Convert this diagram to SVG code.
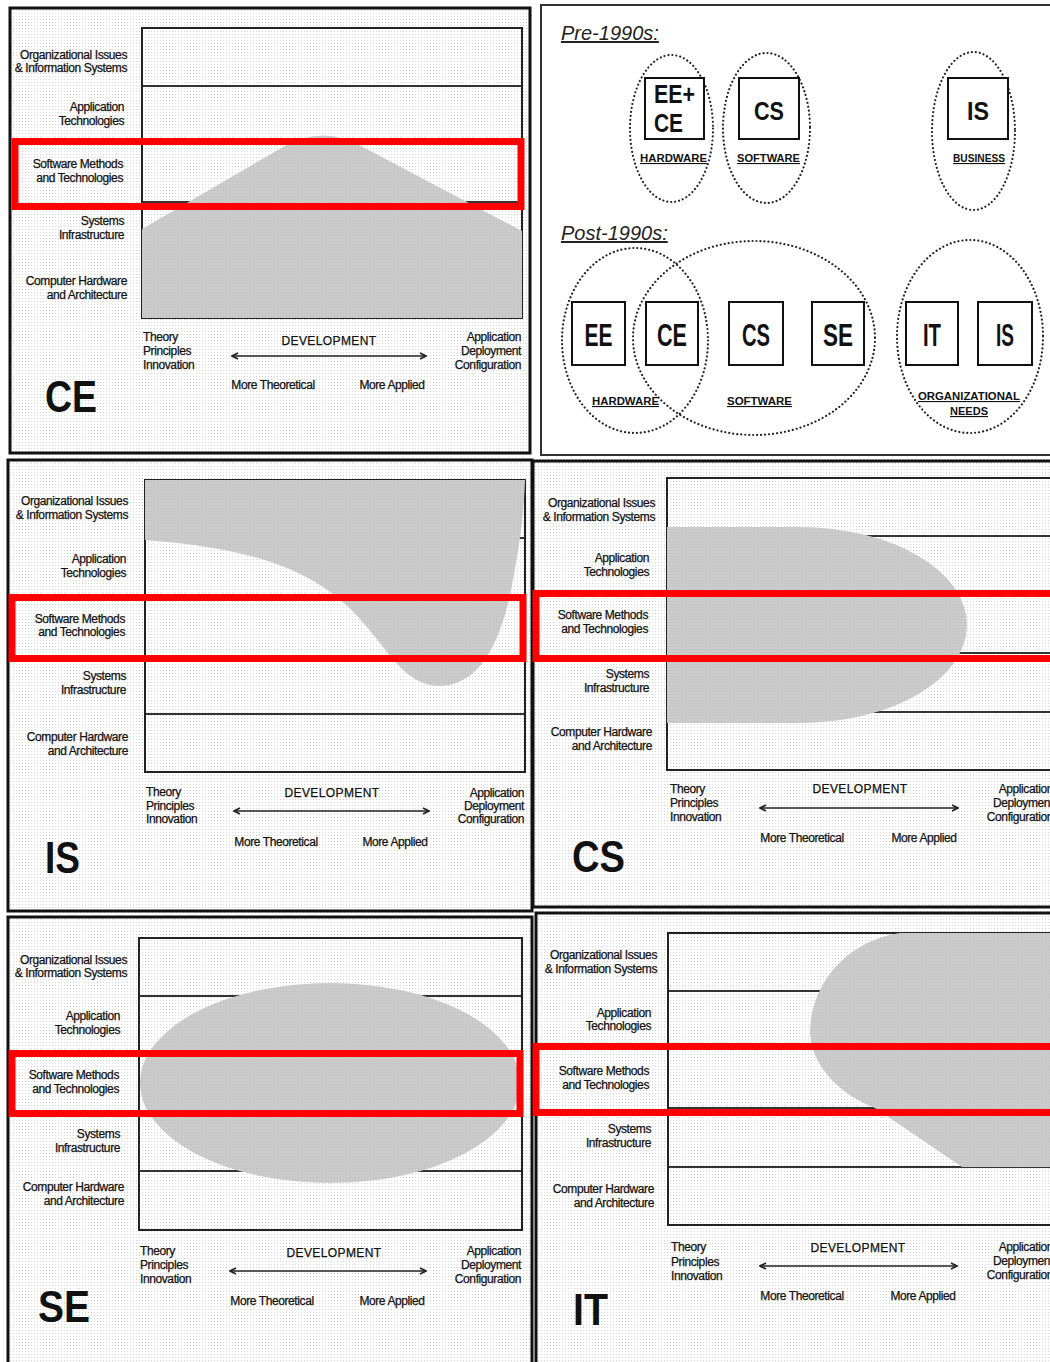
<svg xmlns="http://www.w3.org/2000/svg" width="1050" height="1362" viewBox="0 0 1050 1362">
  <defs>
    <pattern id="grain" width="3" height="3" patternUnits="userSpaceOnUse">
      <rect width="3" height="3" fill="#ffffff"/>
      <rect x="1" y="1" width="1" height="1" fill="#d6d6d6"/>
    </pattern>
    <pattern id="grainDark" width="3" height="3" patternUnits="userSpaceOnUse">
      <rect width="3" height="3" fill="#cbcbcb"/>
      <rect x="1" y="1" width="1" height="1" fill="#bdbdbd"/>
    </pattern>
    <marker id="chev" viewBox="0 0 8 8" refX="7" refY="4" markerWidth="8" markerHeight="8" markerUnits="userSpaceOnUse" orient="auto-start-reverse">
      <path d="M1,1 L7,4 L1,7" fill="none" stroke="#222" stroke-width="1.6"/>
    </marker>
    <style>
      text { font-family: "Liberation Sans", Arial, sans-serif; fill: #111; }
      .lbl { font-size: 12px; letter-spacing: -0.4px; stroke: #111; stroke-width: 0.25px; }
      .end { text-anchor: end; }
      .mid { text-anchor: middle; }
      .dev { font-size: 12px; letter-spacing: 0.4px; stroke: #111; stroke-width: 0.25px; }
      .big { font-size: 44px; font-weight: bold; }
      .frame { fill: url(#grain); stroke: #111; stroke-width: 3; }
      .box { fill: none; stroke: #222; stroke-width: 2; }
      .row { stroke: #333; stroke-width: 2; }
      .area { fill: url(#grainDark); }
      .hl { fill: none; stroke: #ff0000; stroke-width: 7; }
      .axis { stroke: #222; stroke-width: 1.5; fill: none; marker-start: url(#chev); marker-end: url(#chev); }
      .era { font-size: 20px; font-style: italic; fill: #222; text-decoration: underline; }
      .ring { fill: none; stroke: #222; stroke-width: 2.2; stroke-dasharray: 0.01 4; stroke-linecap: round; }
      .disc { fill: #fff; stroke: #111; stroke-width: 2; }
      .code { font-weight: bold; }
      .grp { font-size: 11px; font-weight: bold; text-decoration: underline; text-anchor: middle; }
    </style>
  </defs>

  <rect width="1050" height="1362" fill="#ffffff"/>

  <!-- CE profile -->
  <g id="panel-ce">
    <rect class="frame" x="10" y="8" width="520" height="445"/>
    <rect x="142" y="28" width="380" height="290" fill="url(#grain)"/>
    <line class="row" x1="142" y1="86" x2="522" y2="86"/>
    <line class="row" x1="142" y1="144" x2="522" y2="144"/>
    <line class="row" x1="142" y1="202" x2="522" y2="202"/>
    <line class="row" x1="142" y1="260" x2="522" y2="260"/>
    <rect class="box" x="142" y="28" width="380" height="290"/>
    <path class="area" d="M142,229 L283,147 Q323,124 363,147 L522,231 V318 H142 Z"/>
    <rect class="hl" x="15" y="141.5" width="506" height="65"/>
    <text class="lbl end" x="127" y="59">Organizational Issues</text>
    <text class="lbl end" x="127" y="72">&amp; Information Systems</text>
    <text class="lbl end" x="124" y="111">Application</text>
    <text class="lbl end" x="124" y="125">Technologies</text>
    <text class="lbl end" x="123" y="168">Software Methods</text>
    <text class="lbl end" x="123" y="182">and Technologies</text>
    <text class="lbl end" x="124" y="225">Systems</text>
    <text class="lbl end" x="124" y="239">Infrastructure</text>
    <text class="lbl end" x="127" y="285">Computer Hardware</text>
    <text class="lbl end" x="127" y="299">and Architecture</text>
    <text class="lbl" x="143" y="341">Theory</text>
    <text class="lbl" x="143" y="355">Principles</text>
    <text class="lbl" x="143" y="369">Innovation</text>
    <text class="dev mid" x="329" y="345">DEVELOPMENT</text>
    <text class="lbl mid" x="273" y="389">More Theoretical</text>
    <text class="lbl mid" x="392" y="389">More Applied</text>
    <text class="lbl end" x="521" y="341">Application</text>
    <text class="lbl end" x="521" y="355">Deployment</text>
    <text class="lbl end" x="521" y="369">Configuration</text>
    <text class="big" x="45" y="412" textLength="52" lengthAdjust="spacingAndGlyphs">CE</text>
  </g>

  <!-- IS profile -->
  <g id="panel-is">
    <rect class="frame" x="8" y="460" width="524" height="451"/>
    <rect x="145" y="480" width="380" height="292" fill="url(#grain)"/>
    <line class="row" x1="145" y1="538" x2="525" y2="538"/>
    <line class="row" x1="145" y1="596" x2="525" y2="596"/>
    <line class="row" x1="145" y1="656" x2="525" y2="656"/>
    <line class="row" x1="145" y1="714" x2="525" y2="714"/>
    <rect class="box" x="145" y="480" width="380" height="292"/>
    <path class="area" d="M145,480 H525 C524,510 520,545 512,585 C502,640 480,686 440,686 C400,686 385,640 345,604 C305,568 250,548 145,540 Z"/>
    <rect class="hl" x="12" y="597.5" width="511" height="61"/>
    <text class="lbl end" x="128" y="505">Organizational Issues</text>
    <text class="lbl end" x="128" y="519">&amp; Information Systems</text>
    <text class="lbl end" x="126" y="563">Application</text>
    <text class="lbl end" x="126" y="577">Technologies</text>
    <text class="lbl end" x="125" y="623">Software Methods</text>
    <text class="lbl end" x="125" y="636">and Technologies</text>
    <text class="lbl end" x="126" y="680">Systems</text>
    <text class="lbl end" x="126" y="694">Infrastructure</text>
    <text class="lbl end" x="128" y="741">Computer Hardware</text>
    <text class="lbl end" x="128" y="755">and Architecture</text>
    <text class="lbl" x="146" y="796">Theory</text>
    <text class="lbl" x="146" y="810">Principles</text>
    <text class="lbl" x="146" y="823">Innovation</text>
    <text class="dev mid" x="332" y="797">DEVELOPMENT</text>
    <text class="lbl mid" x="276" y="846">More Theoretical</text>
    <text class="lbl mid" x="395" y="846">More Applied</text>
    <text class="lbl end" x="524" y="797">Application</text>
    <text class="lbl end" x="524" y="810">Deployment</text>
    <text class="lbl end" x="524" y="823">Configuration</text>
    <text class="big" x="45" y="873" textLength="35" lengthAdjust="spacingAndGlyphs">IS</text>
  </g>

  <!-- CS profile -->
  <g id="panel-cs">
    <rect class="frame" x="533" y="461" width="530" height="446"/>
    <rect x="667" y="478" width="400" height="292" fill="url(#grain)"/>
    <line class="row" x1="667" y1="536" x2="1060" y2="536"/>
    <line class="row" x1="667" y1="594" x2="1060" y2="594"/>
    <line class="row" x1="667" y1="653" x2="1060" y2="653"/>
    <line class="row" x1="667" y1="712" x2="1060" y2="712"/>
    <rect class="box" x="667" y="478" width="400" height="292"/>
    <path class="area" d="M667,527 H800 A167,98 0 0 1 800,723 H667 Z"/>
    <rect class="hl" x="536" y="593.5" width="530" height="65"/>
    <text class="lbl end" x="655" y="507">Organizational Issues</text>
    <text class="lbl end" x="655" y="521">&amp; Information Systems</text>
    <text class="lbl end" x="649" y="562">Application</text>
    <text class="lbl end" x="649" y="576">Technologies</text>
    <text class="lbl end" x="648" y="619">Software Methods</text>
    <text class="lbl end" x="648" y="633">and Technologies</text>
    <text class="lbl end" x="649" y="678">Systems</text>
    <text class="lbl end" x="649" y="692">Infrastructure</text>
    <text class="lbl end" x="652" y="736">Computer Hardware</text>
    <text class="lbl end" x="652" y="750">and Architecture</text>
    <text class="lbl" x="670" y="793">Theory</text>
    <text class="lbl" x="670" y="807">Principles</text>
    <text class="lbl" x="670" y="821">Innovation</text>
    <text class="dev mid" x="860" y="793">DEVELOPMENT</text>
    <text class="lbl mid" x="802" y="842">More Theoretical</text>
    <text class="lbl mid" x="924" y="842">More Applied</text>
    <text class="lbl end" x="1053" y="793">Application</text>
    <text class="lbl end" x="1053" y="807">Deployment</text>
    <text class="lbl end" x="1053" y="821">Configuration</text>
    <text class="big" x="572" y="872" textLength="53" lengthAdjust="spacingAndGlyphs">CS</text>
  </g>

  <!-- SE profile -->
  <g id="panel-se">
    <rect class="frame" x="8" y="917" width="524" height="470"/>
    <rect x="139" y="938" width="383" height="292" fill="url(#grain)"/>
    <line class="row" x1="139" y1="996" x2="522" y2="996"/>
    <line class="row" x1="139" y1="1054" x2="522" y2="1054"/>
    <line class="row" x1="139" y1="1112" x2="522" y2="1112"/>
    <line class="row" x1="139" y1="1171" x2="522" y2="1171"/>
    <rect class="box" x="139" y="938" width="383" height="292"/>
    <ellipse class="area" cx="330" cy="1083" rx="190" ry="100"/>
    <rect class="hl" x="12" y="1053.5" width="508" height="60"/>
    <text class="lbl end" x="127" y="964">Organizational Issues</text>
    <text class="lbl end" x="127" y="977">&amp; Information Systems</text>
    <text class="lbl end" x="120" y="1020">Application</text>
    <text class="lbl end" x="120" y="1034">Technologies</text>
    <text class="lbl end" x="119" y="1079">Software Methods</text>
    <text class="lbl end" x="119" y="1093">and Technologies</text>
    <text class="lbl end" x="120" y="1138">Systems</text>
    <text class="lbl end" x="120" y="1152">Infrastructure</text>
    <text class="lbl end" x="124" y="1191">Computer Hardware</text>
    <text class="lbl end" x="124" y="1205">and Architecture</text>
    <text class="lbl" x="140" y="1255">Theory</text>
    <text class="lbl" x="140" y="1269">Principles</text>
    <text class="lbl" x="140" y="1283">Innovation</text>
    <text class="dev mid" x="334" y="1257">DEVELOPMENT</text>
    <text class="lbl mid" x="272" y="1305">More Theoretical</text>
    <text class="lbl mid" x="392" y="1305">More Applied</text>
    <text class="lbl end" x="521" y="1255">Application</text>
    <text class="lbl end" x="521" y="1269">Deployment</text>
    <text class="lbl end" x="521" y="1283">Configuration</text>
    <text class="big" x="38" y="1322" textLength="52" lengthAdjust="spacingAndGlyphs">SE</text>
  </g>

  <!-- IT profile -->
  <g id="panel-it">
    <rect class="frame" x="536" y="913" width="530" height="470"/>
    <rect x="668" y="933" width="400" height="292" fill="url(#grain)"/>
    <line class="row" x1="668" y1="991" x2="1060" y2="991"/>
    <line class="row" x1="668" y1="1049" x2="1060" y2="1049"/>
    <line class="row" x1="668" y1="1108" x2="1060" y2="1108"/>
    <line class="row" x1="668" y1="1167" x2="1060" y2="1167"/>
    <rect class="box" x="668" y="933" width="400" height="292"/>
    <path class="area" d="M900,933 C850,940 812,980 810,1030 C810,1065 840,1095 875,1108 L962,1167 H1060 V933 Z"/>
    <rect class="hl" x="536" y="1046.5" width="530" height="66"/>
    <text class="lbl end" x="657" y="959">Organizational Issues</text>
    <text class="lbl end" x="657" y="973">&amp; Information Systems</text>
    <text class="lbl end" x="651" y="1017">Application</text>
    <text class="lbl end" x="651" y="1030">Technologies</text>
    <text class="lbl end" x="649" y="1075">Software Methods</text>
    <text class="lbl end" x="649" y="1089">and Technologies</text>
    <text class="lbl end" x="651" y="1133">Systems</text>
    <text class="lbl end" x="651" y="1147">Infrastructure</text>
    <text class="lbl end" x="654" y="1193">Computer Hardware</text>
    <text class="lbl end" x="654" y="1207">and Architecture</text>
    <text class="lbl" x="671" y="1251">Theory</text>
    <text class="lbl" x="671" y="1266">Principles</text>
    <text class="lbl" x="671" y="1280">Innovation</text>
    <text class="dev mid" x="858" y="1252">DEVELOPMENT</text>
    <text class="lbl mid" x="802" y="1300">More Theoretical</text>
    <text class="lbl mid" x="923" y="1300">More Applied</text>
    <text class="lbl end" x="1053" y="1251">Application</text>
    <text class="lbl end" x="1053" y="1265">Deployment</text>
    <text class="lbl end" x="1053" y="1279">Configuration</text>
    <text class="big" x="573" y="1325" textLength="35" lengthAdjust="spacingAndGlyphs">IT</text>
  </g>

  <!-- development axes -->
  <g id="connectors">
    <line class="axis" x1="232" y1="356" x2="426" y2="356"/>
    <line class="axis" x1="234" y1="811" x2="429" y2="811"/>
    <line class="axis" x1="760" y1="808" x2="958" y2="808"/>
    <line class="axis" x1="230" y1="1271" x2="426" y2="1271"/>
    <line class="axis" x1="760" y1="1266" x2="957" y2="1266"/>
  </g>

  <!-- discipline groupings before and after the 1990s -->
  <g id="panel-eras">
    <rect x="541" y="5" width="520" height="450" fill="#ffffff" stroke="#333" stroke-width="2"/>
    <text class="era" x="561" y="40">Pre-1990s:</text>
    <text class="era" x="561" y="240">Post-1990s:</text>

    <g id="pre-hardware">
      <ellipse class="ring" cx="671.5" cy="128.5" rx="41.5" ry="73.5"/>
      <rect class="disc" x="645" y="78" width="59" height="61"/>
      <text class="code" x="654" y="103" font-size="25" textLength="41" lengthAdjust="spacingAndGlyphs">EE+</text>
      <text class="code" x="654" y="132" font-size="25" textLength="29" lengthAdjust="spacingAndGlyphs">CE</text>
      <text class="grp" x="673.5" y="162" textLength="67" lengthAdjust="spacingAndGlyphs">HARDWARE</text>
    </g>
    <g id="pre-software">
      <ellipse class="ring" cx="766.5" cy="128" rx="43.5" ry="75"/>
      <rect class="disc" x="739" y="78" width="60" height="61"/>
      <text class="code mid" x="769" y="120" font-size="26" textLength="30" lengthAdjust="spacingAndGlyphs">CS</text>
      <text class="grp" x="768.5" y="162" textLength="63" lengthAdjust="spacingAndGlyphs">SOFTWARE</text>
    </g>
    <g id="pre-business">
      <ellipse class="ring" cx="973.5" cy="131" rx="41.5" ry="79"/>
      <rect class="disc" x="948" y="78" width="60" height="61"/>
      <text class="code mid" x="978" y="120" font-size="26" textLength="22" lengthAdjust="spacingAndGlyphs">IS</text>
      <text class="grp" x="979" y="162" textLength="52" lengthAdjust="spacingAndGlyphs">BUSINESS</text>
    </g>

    <g id="post-hardware">
      <ellipse class="ring" cx="635" cy="340.5" rx="73" ry="92.5"/>
      <text class="grp" x="625.5" y="405" textLength="67" lengthAdjust="spacingAndGlyphs">HARDWARE</text>
    </g>
    <g id="post-software">
      <ellipse class="ring" cx="754" cy="338" rx="121" ry="97"/>
      <text class="grp" x="759.5" y="405" textLength="65" lengthAdjust="spacingAndGlyphs">SOFTWARE</text>
    </g>
    <g id="post-organizational">
      <ellipse class="ring" cx="970" cy="336.5" rx="73" ry="96.5"/>
      <text class="grp" x="969" y="400" textLength="102" lengthAdjust="spacingAndGlyphs">ORGANIZATIONAL</text>
      <text class="grp" x="969" y="415" textLength="38" lengthAdjust="spacingAndGlyphs">NEEDS</text>
    </g>
    <g id="post-ee">
      <rect class="disc" x="572" y="302" width="53" height="63"/>
      <text class="code mid" x="598.5" y="346" font-size="31" textLength="28" lengthAdjust="spacingAndGlyphs">EE</text>
    </g>
    <g id="post-ce">
      <rect class="disc" x="646" y="302" width="52" height="63"/>
      <text class="code mid" x="672" y="346" font-size="31" textLength="30" lengthAdjust="spacingAndGlyphs">CE</text>
    </g>
    <g id="post-cs">
      <rect class="disc" x="729" y="302" width="54" height="63"/>
      <text class="code mid" x="756" y="346" font-size="31" textLength="28" lengthAdjust="spacingAndGlyphs">CS</text>
    </g>
    <g id="post-se">
      <rect class="disc" x="812" y="302" width="52" height="63"/>
      <text class="code mid" x="838" y="346" font-size="31" textLength="30" lengthAdjust="spacingAndGlyphs">SE</text>
    </g>
    <g id="post-it">
      <rect class="disc" x="906" y="302" width="52" height="63"/>
      <text class="code mid" x="932" y="346" font-size="31" textLength="18" lengthAdjust="spacingAndGlyphs">IT</text>
    </g>
    <g id="post-is">
      <rect class="disc" x="978" y="302" width="54" height="63"/>
      <text class="code mid" x="1005" y="346" font-size="31" textLength="18" lengthAdjust="spacingAndGlyphs">IS</text>
    </g>
  </g>
</svg>
